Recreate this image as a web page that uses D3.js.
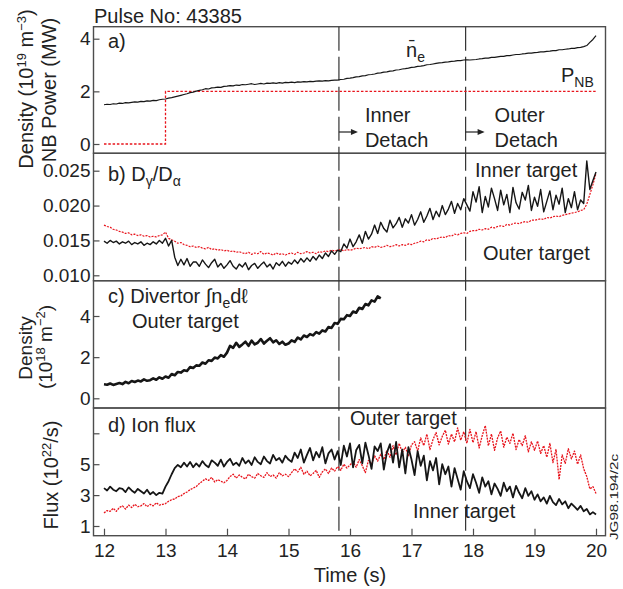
<!DOCTYPE html>
<html>
<head>
<meta charset="utf-8">
<script src="https://cdn.jsdelivr.net/npm/d3@7"></script>
<style>
  body { margin: 0; background: #fff; }
  svg { display: block; }
  text { font-family: "Liberation Sans", Arial, sans-serif; fill: #222; }
</style>
</head>
<body>
<div class="container"></div>
<script>
var WIDTH = 623;
var HEIGHT = 589;

// traces are sampled on a 0.05 s grid starting at 12 s
var T0 = 12, DT = 0.05;

var timeTicks = [12, 13, 14, 15, 16, 17, 18, 19, 20];
var detachTimes = [15.82, 17.88];

// a) line averaged density and NB power
var neBar = [1.49,1.51,1.50,1.53,1.52,1.55,1.54,1.57,1.56,1.58,1.60,1.59,1.62,1.61,1.64,1.63,1.66,1.65,1.68,1.70,1.71,
  1.74,1.76,1.79,1.82,1.85,1.88,1.91,1.95,1.97,2.01,
  2.04,2.06,2.10,2.09,2.13,2.14,2.16,2.15,2.19,2.20,
  2.22,2.21,2.24,2.23,2.26,2.25,2.27,2.29,2.26,2.28,2.30,2.28,2.31,2.30,2.32,2.30,2.33,2.31,2.34,2.33,
  2.35,2.33,2.36,2.35,2.37,2.36,2.38,2.37,2.39,2.40,2.39,2.41,2.40,2.42,2.43,2.43,
  2.45,2.46,2.49,2.50,2.52,2.55,2.56,2.59,2.60,2.63,2.64,2.66,2.69,2.70,2.73,2.74,2.77,2.78,2.81,2.82,2.85,2.86,2.88,2.91,2.92,2.95,2.96,2.98,3.01,3.02,3.04,3.06,3.08,3.09,3.11,3.12,3.14,3.15,3.17,3.17,3.19,3.20,
  3.19,3.20,3.21,3.23,3.24,3.26,3.26,3.29,3.29,3.31,3.33,3.33,3.36,3.36,3.38,3.40,3.40,3.42,3.43,3.45,3.45,3.47,
  3.48,3.50,3.50,3.52,3.53,3.55,3.55,3.58,3.58,3.60,3.61,3.63,3.63,3.66,3.67,
  3.70,3.74,3.86,3.97,4.12];
var pnbTime = [12, 13, 13, 20];
var pnbPower = [0, 0, 2, 2];
var ticksA = [0, 2, 4];

// b) D_gamma / D_alpha, in units of 1e-3
var dRatioInnerMilli = [14.9,14.6,15.0,14.7,14.9,14.5,14.8,14.6,14.9,14.4,14.7,14.5,14.8,14.3,14.6,14.4,14.8,14.5,15.0,14.6,
  15.3,14.2,15.0,12.6,11.4,12.3,11.5,12.4,11.3,11.9,
  11.9,11.3,12.2,11.6,11.1,11.8,12.3,11.2,11.7,11.0,11.5,12.1,11.3,10.9,11.6,11.2,11.8,10.8,11.4,11.7,11.0,11.5,11.9,11.2,11.6,10.9,11.8,11.4,12.0,11.3,11.9,
  11.6,12.2,11.7,12.4,11.9,12.5,12.0,12.7,12.2,12.9,12.4,13.2,12.7,13.5,13.0,13.6,
  13.4,14.5,13.9,15.2,14.1,14.8,15.8,14.6,16.3,15.2,15.9,17.2,16.0,17.6,16.7,16.2,17.9,16.8,17.4,18.3,16.9,18.1,17.5,18.7,17.2,18.0,19.1,17.6,18.5,19.6,18.0,19.2,18.4,20.0,18.7,19.5,20.6,18.9,20.3,19.4,21.0,20.1,
  19.2,22.0,20.5,22.7,19.0,21.3,19.8,22.5,21.0,19.3,22.2,20.1,21.6,19.0,22.6,20.4,19.5,21.9,20.8,22.9,19.3,21.2,19.9,22.3,19.1,20.6,22.1,19.4,21.5,20.2,22.5,19.0,21.0,19.7,22.0,19.4,20.8,20.3,
  26.4,22.3,23.6,24.8];
var dRatioOuterMilli = [17.2,17.0,16.9,16.6,16.5,16.3,16.2,16.0,16.1,15.8,15.9,15.7,15.8,15.6,15.7,15.5,15.6,15.5,15.7,15.8,16.2,
  15.3,15.1,14.9,14.6,14.7,14.4,14.3,14.1,14.2,14.0,14.1,13.9,13.8,14.0,13.7,13.8,13.6,13.7,13.5,13.6,
  13.4,13.5,13.3,13.4,13.2,13.1,13.3,13.0,13.2,13.1,13.4,13.0,13.2,13.1,12.9,13.2,13.0,13.1,12.9,13.1,
  13.2,13.0,13.3,13.1,13.2,13.4,13.2,13.3,13.1,13.4,13.3,13.5,13.4,13.6,13.5,13.6,13.7,13.5,13.7,13.6,
  13.7,13.9,13.8,13.9,14.0,13.8,14.1,14.0,14.2,14.0,14.1,14.3,14.1,14.2,14.4,14.2,14.4,14.3,14.5,14.4,
  14.6,14.7,14.9,14.8,15.1,15.0,15.3,15.2,15.4,15.5,15.4,15.7,15.6,15.9,15.8,16.0,16.1,16.0,16.3,16.4,
  16.4,16.6,16.5,16.7,16.6,16.9,16.8,17.0,17.1,17.0,17.3,17.2,17.4,17.5,17.4,17.6,17.7,17.6,17.9,17.9,
  18.0,18.1,18.0,18.3,18.2,18.4,18.5,18.4,18.6,18.7,18.8,18.9,19.0,19.1,19.3,
  19.4,20.2,21.6,23.0,24.6];
var ticksB = [0.010, 0.015, 0.020, 0.025];

// c) divertor line integrated density, outer target (ends at 16.5 s)
var divDensity = [0.68,0.66,0.72,0.65,0.70,0.74,0.69,0.80,0.73,0.84,0.79,0.86,0.82,0.92,0.85,0.88,0.97,0.90,1.02,0.95,1.06,
  1.00,1.18,1.12,1.28,1.25,1.36,1.33,1.52,1.47,1.60,1.58,1.74,1.68,1.85,1.82,1.98,1.94,2.10,2.02,2.22,
  2.55,2.45,2.70,2.50,2.62,2.75,2.55,2.80,2.62,2.70,2.88,2.66,2.80,2.92,2.72,2.82,2.64,2.75,2.60,2.66,
  2.82,2.74,2.95,2.86,3.05,2.98,3.12,3.06,3.22,3.14,3.30,3.25,3.46,3.42,3.66,3.62,3.86,3.84,4.04,4.00,
  4.22,4.16,4.40,4.34,4.58,4.52,4.76,4.70,4.95,4.86];
var ticksC = [0, 2, 4];

// d) ion flux to the targets
var fluxInner = [3.45,3.30,3.55,3.35,3.25,3.45,3.40,3.20,3.50,3.30,3.15,3.40,3.25,3.10,3.35,3.05,3.20,3.00,3.15,3.10,
  3.55,3.90,4.35,4.75,4.95,4.80,5.10,4.85,5.15,4.80,
  5.05,4.85,5.20,4.95,4.80,5.25,5.10,4.90,5.30,4.85,5.15,5.35,4.95,5.10,4.90,5.40,5.05,5.25,4.95,5.45,5.15,5.00,5.50,5.20,5.05,5.60,5.25,5.40,5.10,5.55,5.30,
  5.15,5.75,5.40,5.95,5.10,5.60,6.05,5.25,5.80,5.45,6.10,5.05,5.70,5.95,5.30,5.85,
  4.95,6.20,5.50,6.35,4.80,5.90,6.25,5.05,6.40,5.60,4.70,6.15,5.85,6.35,4.65,5.75,6.30,5.10,6.45,4.80,5.95,4.40,6.10,5.30,
  4.30,5.85,4.90,5.55,3.95,5.20,4.60,5.40,3.70,5.00,4.35,4.85,3.55,4.75,4.05,3.35,4.55,3.90,
  3.45,4.35,3.80,3.15,4.15,3.55,3.90,3.05,3.75,3.40,2.95,3.80,3.25,3.55,2.85,3.60,3.15,2.80,3.45,2.95,3.25,2.70,
  3.05,2.60,2.85,2.45,2.95,2.55,2.35,2.75,2.40,2.60,2.15,2.45,2.25,2.05,2.30,1.95,2.10,1.75,1.90,1.75];
var fluxOuter = [1.85,2.00,1.95,2.15,1.95,2.20,2.30,2.10,2.35,2.20,2.40,2.25,2.30,2.45,2.25,2.40,2.30,2.50,2.35,2.40,
  2.45,2.60,2.70,2.75,2.90,2.95,3.10,3.20,3.35,3.45,3.55,3.75,3.90,4.05,3.95,4.15,3.85,4.00,3.90,3.80,3.95,
  4.20,4.35,4.10,4.30,4.15,4.05,4.35,4.20,4.10,4.40,4.25,4.15,4.45,4.20,4.30,4.10,4.45,4.25,4.35,4.20,
  4.45,4.70,4.50,4.80,4.35,4.55,4.25,4.40,4.60,4.15,4.50,4.70,4.40,4.75,4.55,4.85,4.60,5.00,4.75,4.95,
  5.15,4.80,5.30,4.90,4.45,5.25,5.00,5.55,5.20,5.65,5.30,5.90,5.45,6.20,5.60,6.35,5.75,6.10,5.55,6.25,
  6.45,5.85,6.70,6.20,6.95,5.95,6.60,7.05,6.25,6.80,7.20,6.30,6.95,6.45,7.35,6.55,7.10,6.35,7.25,6.40,
  7.10,6.05,6.85,7.50,6.20,6.95,5.90,6.70,7.15,6.10,6.75,6.35,7.00,5.95,6.60,6.20,6.85,5.80,6.45,5.90,
  6.50,5.70,6.20,5.45,6.35,5.10,5.95,4.00,5.60,5.05,6.00,5.35,5.85,5.00,5.60,4.70,4.20,3.40,3.55,3.10];
var ticksD = [1, 3, 5, 7];

var BLACK = '#161616';
var RED = '#e8141c';
var FRAME = '#4d4d4d';
var FONT = '"Liberation Sans", Arial, sans-serif';

var translate = function (x, y) {
  return 'translate(' + x + ',' + y + ')';
};

// text made of plain, subscript and superscript pieces
var rich = function (t, parts) {
  var shift = 0;
  parts.forEach(function (p) {
    var s = p[1] === 'sub' ? 5 : (p[1] === 'sup' ? -7 : 0);
    var ts = t.append('tspan').attr('dy', s - shift).text(p[0]);
    if (p[1] === 'sub') ts.attr('font-size', 14);
    if (p[1] === 'sup') ts.attr('font-size', 13);
    shift = s;
  });
  return t;
};

var loadChart = function () {
  var left = 93.5, right = 605.5;

  var xScale = d3.scaleLinear().domain([12, 20]).range([104, 596]);

  var svg = d3.select('.container').append('svg')
    .attr('width', WIDTH)
    .attr('height', HEIGHT);

  // panel frames and y scales (value -> pixel taken from the tick marks)
  var panels = [
    {top: 26.7, bottom: 153.3, y: d3.scaleLinear().domain([0, 4]).range([144, 38.7]), ticks: ticksA, fmt: d3.format('d')},
    {top: 153.3, bottom: 280.7, y: d3.scaleLinear().domain([0.010, 0.025]).range([275.3, 170.7]), ticks: ticksB, fmt: d3.format('.3f')},
    {top: 280.7, bottom: 408, y: d3.scaleLinear().domain([0, 4]).range([398.3, 316]), ticks: ticksC, fmt: d3.format('d')},
    {top: 408, bottom: 535.7, y: d3.scaleLinear().domain([1, 7]).range([526, 433.3]), ticks: ticksD, fmt: function (d) { return d === 7 ? '' : d; }}
  ];

  panels.forEach(function (p) {
    var ax = svg.append('g')
      .attr('transform', translate(left, 0))
      .call(d3.axisLeft(p.y).tickValues(p.ticks).tickFormat(p.fmt).tickSizeInner(-6).tickSizeOuter(0).tickPadding(3));
    ax.select('.domain').remove();
    ax.selectAll('line').attr('stroke', FRAME).attr('stroke-width', 1.2);
    ax.selectAll('text').attr('font-size', 19).attr('font-family', FONT).attr('fill', '#222');

    svg.append('rect')
      .attr('x', left).attr('y', p.top)
      .attr('width', right - left).attr('height', p.bottom - p.top)
      .attr('fill', 'none').attr('stroke', FRAME).attr('stroke-width', 1.4);
  });

  // time axis on the bottom panel
  var xAx = svg.append('g')
    .attr('transform', translate(0, 535.7))
    .call(d3.axisBottom(xScale).tickValues(timeTicks).tickFormat(d3.format('d')).tickSizeInner(-7).tickSizeOuter(0).tickPadding(8));
  xAx.select('.domain').remove();
  xAx.selectAll('line').attr('stroke', FRAME).attr('stroke-width', 1.2);
  xAx.selectAll('text').attr('font-size', 19).attr('font-family', FONT).attr('fill', '#222');

  // detachment markers
  svg.selectAll('.detach').data(detachTimes).enter()
    .append('line')
    .attr('class', 'detach')
    .attr('x1', function (d) { return xScale(d); })
    .attr('x2', function (d) { return xScale(d); })
    .attr('y1', 26.7).attr('y2', 535.7)
    .attr('stroke', '#333').attr('stroke-width', 1.2)
    .attr('stroke-dasharray', '24,6');

  var traceLine = function (yScale, scale) {
    return d3.line()
      .x(function (d, i) { return xScale(T0 + i * DT); })
      .y(function (d) { return yScale(d * scale); });
  };

  var addTrace = function (data, yScale, scale, color, width, dash) {
    var path = svg.append('path')
      .datum(data)
      .attr('d', traceLine(yScale, scale))
      .attr('fill', 'none')
      .attr('stroke', color)
      .attr('stroke-width', width)
      .attr('stroke-linejoin', 'round');
    if (dash) path.attr('stroke-dasharray', dash);
  };

  // a)
  var pnbLine = d3.line()
    .x(function (d, i) { return xScale(pnbTime[i]); })
    .y(function (d) { return panels[0].y(d); });
  svg.append('path').datum(pnbPower)
    .attr('d', pnbLine)
    .attr('fill', 'none').attr('stroke', RED).attr('stroke-width', 1.3)
    .attr('stroke-dasharray', '2.5,1.8');
  addTrace(neBar, panels[0].y, 1, BLACK, 1.2);

  // b)
  addTrace(dRatioOuterMilli, panels[1].y, 0.001, RED, 1.2, '2,1.2');
  addTrace(dRatioInnerMilli, panels[1].y, 0.001, BLACK, 1.4);

  // c)
  addTrace(divDensity, panels[2].y, 1, BLACK, 2.6);

  // d)
  addTrace(fluxOuter, panels[3].y, 1, RED, 1.3, '2,1');
  addTrace(fluxInner, panels[3].y, 1, BLACK, 1.8);

  // ---- text ----
  var label = function (x, y, size, anchor) {
    return svg.append('text')
      .attr('x', x).attr('y', y)
      .attr('font-size', size || 20)
      .attr('text-anchor', anchor || 'start');
  };

  label(94, 22.5).text('Pulse No: 43385');

  label(108, 48).text('a)');
  rich(label(406, 57), [['n\u0304'], ['e', 'sub']]);
  rich(label(561, 82), [['P'], ['NB', 'sub']]);

  var xIn = xScale(detachTimes[0]), xOut = xScale(detachTimes[1]);
  label(xIn + 26, 122).text('Inner');
  label(xIn + 26, 147).text('Detach');
  label(xOut + 29, 122).text('Outer');
  label(xOut + 29, 147).text('Detach');
  detachTimes.forEach(function (d) {
    var x0 = xScale(d);
    svg.append('line')
      .attr('x1', x0).attr('x2', x0 + 14).attr('y1', 132).attr('y2', 132)
      .attr('stroke', '#222').attr('stroke-width', 1.2);
    svg.append('path')
      .attr('d', 'M' + (x0 + 19) + ',132 L' + (x0 + 12) + ',129 L' + (x0 + 12) + ',135 Z')
      .attr('fill', '#222');
  });

  rich(label(108, 181), [['b) D'], ['\u03b3', 'sub'], ['/D'], ['\u03b1', 'sub']]);
  label(475, 177).text('Inner target');
  label(483, 260).text('Outer target');

  rich(label(108, 303), [['c) Divertor \u222bn'], ['e', 'sub'], ['d\u2113']]);
  label(132, 328).text('Outer target');

  label(108, 432).text('d) Ion flux');
  label(350, 425).text('Outer target');
  label(413, 518).text('Inner target');

  label(350, 582, 20, 'middle').text('Time (s)');

  // rotated axis titles
  var vlabel = function (x, y, size) {
    return svg.append('text')
      .attr('transform', translate(x, y) + ' rotate(-90)')
      .attr('text-anchor', 'middle')
      .attr('font-size', size || 20);
  };
  rich(vlabel(33, 89), [['Density (10'], ['19', 'sup'], [' m'], ['\u22123', 'sup'], [')']]);
  vlabel(56, 90).text('NB Power (MW)');

  vlabel(32, 348, 19).text('Density');
  rich(vlabel(52, 347, 19), [['(10'], ['18', 'sup'], [' m'], ['\u22122', 'sup'], [')']]);

  rich(vlabel(58, 475), [['Flux (10'], ['22', 'sup'], ['/s)']]);

  svg.append('text')
    .attr('transform', translate(618, 540) + ' rotate(-90)')
    .attr('font-size', 11)
    .attr('textLength', 86)
    .attr('lengthAdjust', 'spacingAndGlyphs')
    .text('JG98.194/2c');
};

window.onload = loadChart;
</script>
</body>
</html>
